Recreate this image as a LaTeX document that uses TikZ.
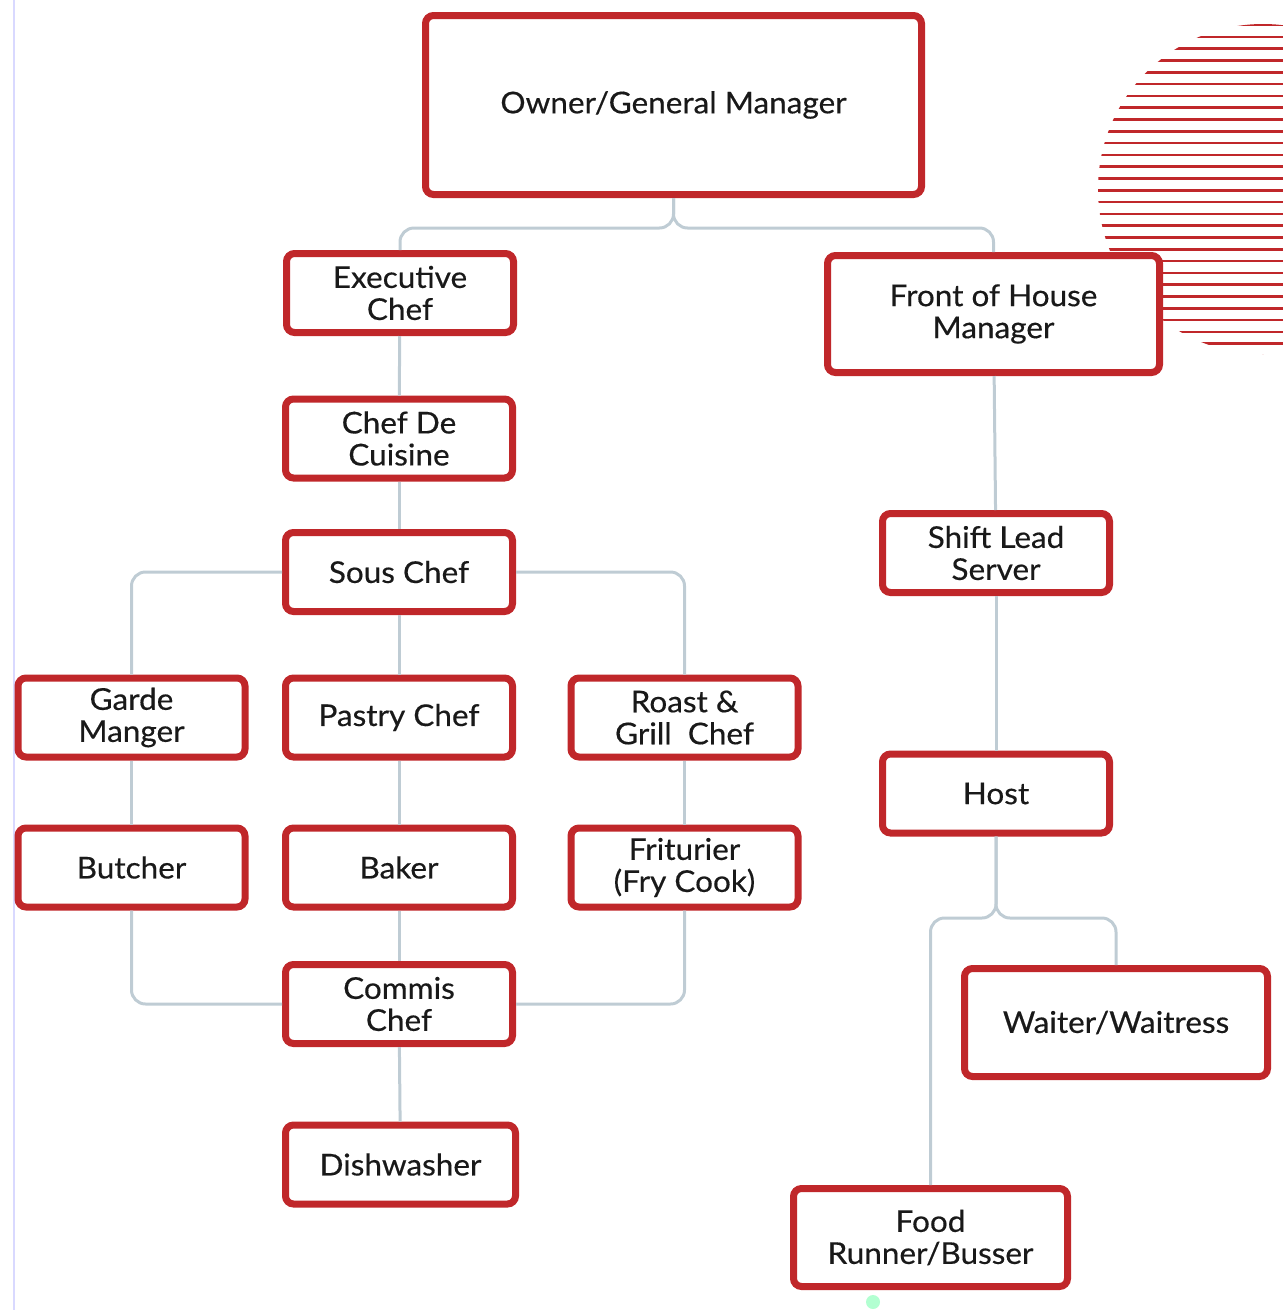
\documentclass[tikz,border=0pt]{standalone}
\usepackage{fontspec}
\setmainfont{Lato}[FakeStretch=1.05,FakeBold=0.4]
\definecolor{boxred}{HTML}{C0272A}
\definecolor{linkgray}{HTML}{BFCCD4}
\tikzset{
  rolebox/.style={draw=boxred,line width=7pt,rounded corners=8pt,fill=white,
    minimum width=227pt,minimum height=79pt,align=center,inner sep=2pt,
    font=\fontsize{30}{32}\selectfont,text=black!90},
  link/.style={draw=linkgray,line width=3pt,rounded corners=14pt}
}
\begin{document}
\begin{tikzpicture}[x=1pt,y=-1pt]
\useasboundingbox (0,0) rectangle (1283,1310);
%\draw[step=50,gray,very thin] (0,0) grid (1283,1310); %background grid

% left edge and striped circle
\draw[blue!15,line width=2pt] (14,0) -- (14,1310);
\begin{scope}
\clip (0,0) rectangle (1283,1310);
\clip (1263,189) circle (165);
\foreach \k in {0,...,28}
  \draw[boxred,line width=2.6pt] (1090,25+11.8*\k) -- (1290,25+11.8*\k);
\end{scope}
\fill[green!60!cyan!30] (873,1302) circle (7);

% boxes
\node[rolebox,minimum width=496pt,minimum height=179pt] (own) at (673.5,105) {Owner/General Manager};
\node[rolebox] (exec) at (400,293) {Executive\\Chef};
\node[rolebox,minimum width=332pt,minimum height=117pt] (foh) at (993.5,314) {Front of House\\Manager};
\node[rolebox] (cdc) at (399,438.5) {Chef De\\Cuisine};
\node[rolebox] (sous) at (399,572) {Sous Chef};
\node[rolebox] (shift) at (996,553) {Shift Lead\\Server};
\node[rolebox] (garde) at (131.5,717.5) {Garde\\Manger};
\node[rolebox] (pastry) at (399,717.5) {Pastry Chef};
\node[rolebox] (roast) at (684.5,717.5) {Roast \&\\Grill~ Chef};
\node[rolebox] (host) at (996,793.5) {Host};
\node[rolebox] (butcher) at (131.5,867.5) {Butcher};
\node[rolebox] (baker) at (399,867.5) {Baker};
\node[rolebox] (frit) at (684.5,867.5) {Friturier\\(Fry Cook)};
\node[rolebox] (commis) at (399,1004) {Commis\\Chef};
\node[rolebox,minimum width=303pt,minimum height=108pt] (waiter) at (1116,1022.5) {Waiter/Waitress};
\node[rolebox,minimum width=230pt] (dish) at (400.5,1164.5) {Dishwasher};
\node[rolebox,minimum width=274pt,minimum height=98pt] (food) at (930.5,1237.5) {Food\\Runner/Busser};

% connectors
\coordinate (ownbar) at (0,228);
\coordinate (hostbar) at (0,918);
\draw[link] (own.south) -- (own.south |- ownbar) -| (exec.north);
\draw[link] (own.south) -- (own.south |- ownbar) -| (foh.north);
\draw[link] (exec) -- (cdc);
\draw[link] (cdc) -- (sous);
\draw[link] (sous.west) -| (garde.north);
\draw[link] (sous) -- (pastry);
\draw[link] (sous.east) -| (roast.north);
\draw[link] (garde) -- (butcher);
\draw[link] (pastry) -- (baker);
\draw[link] (roast) -- (frit);
\draw[link] (butcher.south) |- (commis.west);
\draw[link] (baker) -- (commis);
\draw[link] (frit.south) |- (commis.east);
\draw[link] (commis) -- (dish);
\draw[link] (foh) -- (shift);
\draw[link] (shift) -- (host);
\draw[link] (host.south) -- (host.south |- hostbar) -| (food.north);
\draw[link] (host.south) -- (host.south |- hostbar) -| (waiter.north);
\end{tikzpicture}
\end{document}
